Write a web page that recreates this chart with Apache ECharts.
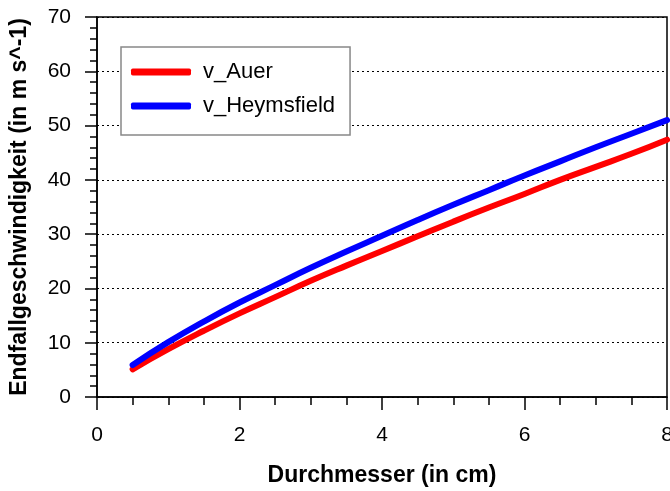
<!DOCTYPE html>
<html>
<head>
<meta charset="utf-8">
<script src="https://cdn.jsdelivr.net/npm/echarts@6/dist/echarts.min.js"></script>
<style>html,body{margin:0;padding:0;background:#fff}#c{width:670px;height:491px}</style>
</head>
<body>
<div id="c"></div>
<script>
var diameters = [0.5, 1, 1.5, 2, 2.5, 3, 3.5, 4, 4.5, 5, 5.5, 6, 6.5, 7, 7.5, 8];
var vAuer = [5.1, 8.8, 12.2, 15.4, 18.4, 21.4, 24.2, 26.9, 29.6, 32.3, 34.9, 37.4, 40.0, 42.4, 44.8, 47.4];
var vHeymsfield = [5.9, 10.1, 13.9, 17.4, 20.6, 23.8, 26.8, 29.7, 32.6, 35.4, 38.1, 40.8, 43.4, 46.0, 48.5, 51.0];
var seriesNames = ['v_Auer', 'v_Heymsfield'];
var xTitle = 'Durchmesser (in cm)';
var yTitle = 'Endfallgeschwindigkeit (in m s^-1)';

function pairs(xs, ys) { return xs.map(function (x, i) { return [x, ys[i]]; }); }

var font = 'Arial, "Liberation Sans", sans-serif';
var chart = echarts.init(document.getElementById('c'));
chart.setOption({
  animation: false,
  backgroundColor: '#fff',
  grid: { left: 97, right: 3, top: 17, bottom: 94, containLabel: false, outerBoundsMode: 'none', show: true, borderColor: '#000', borderWidth: 1.5, backgroundColor: 'transparent' },
  legend: {
    left: 121, top: 47, orient: 'vertical',
    padding: [14, 15, 18, 10], itemGap: 12,
    itemWidth: 60, itemHeight: 7, icon: 'roundRect',
    borderColor: '#888', borderWidth: 1.5, backgroundColor: '#fff',
    textStyle: { fontFamily: font, fontSize: 22, color: '#000', padding: [0, 0, 0, 7] },
    data: seriesNames
  },
  xAxis: {
    type: 'value', min: 0, max: 8, interval: 2,
    name: xTitle, nameLocation: 'middle', nameGap: 67,
    nameTextStyle: { fontFamily: font, fontSize: 23, fontWeight: 'bold', color: '#000' },
    axisLine: { show: true, lineStyle: { color: '#000', width: 1.5 } },
    axisTick: { show: true, inside: false, length: 13, lineStyle: { color: '#000', width: 1.5 } },
    minorTick: { show: true, splitNumber: 4, length: 8, lineStyle: { color: '#000', width: 1.5 } },
    axisLabel: { fontFamily: font, fontSize: 21, color: '#000', margin: 28 },
    splitLine: { show: false }
  },
  yAxis: {
    type: 'value', min: 0, max: 70, interval: 10,
    name: yTitle, nameLocation: 'middle', nameGap: 66, nameRotate: 90,
    nameTextStyle: { fontFamily: font, fontSize: 23, fontWeight: 'bold', color: '#000' },
    axisLine: { show: true, lineStyle: { color: '#000', width: 1.5 } },
    axisTick: { show: true, inside: false, length: 12, lineStyle: { color: '#000', width: 1.5 } },
    minorTick: { show: true, splitNumber: 5, length: 7, lineStyle: { color: '#000', width: 1.5 } },
    axisLabel: { fontFamily: font, fontSize: 21, color: '#000', margin: 26 },
    splitLine: { show: true, lineStyle: { color: '#000', width: 1, type: [2, 3] } }
  },
  series: [
    { name: seriesNames[0], type: 'line', data: pairs(diameters, vAuer), showSymbol: false, smooth: true, lineStyle: { color: '#ff0000', width: 6, cap: 'round' }, itemStyle: { color: '#ff0000' } },
    { name: seriesNames[1], type: 'line', data: pairs(diameters, vHeymsfield), showSymbol: false, smooth: true, lineStyle: { color: '#0000ff', width: 6, cap: 'round' }, itemStyle: { color: '#0000ff' } }
  ]
});
</script>
</body>
</html>
